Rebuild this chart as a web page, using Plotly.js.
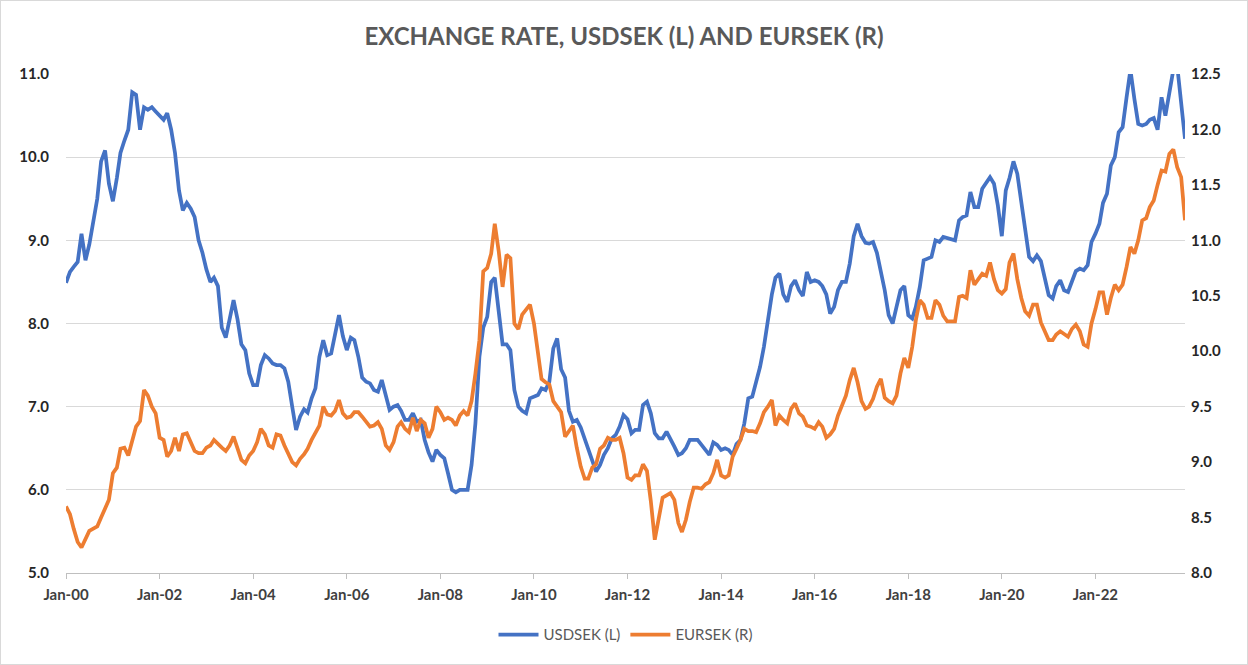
<!DOCTYPE html>
<html>
<head>
<meta charset="utf-8">
<script src="https://cdn.plot.ly/plotly-3.0.1.min.js"></script>
<style>
  html, body { margin: 0; padding: 0; background: #fff; }
  #chart { width: 1248px; height: 665px; box-sizing: border-box; border: 1px solid #d9d9d9; }
</style>
</head>
<body>
<div id="chart"></div>
<script>
// Monthly observations, Jan-2000 .. Dec-2023
const startYear = 2000;
const endYear = 2023;

const usdsek = [
  8.49, 8.62, 8.68, 8.74, 9.08, 8.76, 8.95, 9.25, 9.50, 9.95, 10.08, 9.68,
  9.47, 9.75, 10.05, 10.20, 10.33, 10.78, 10.75, 10.33, 10.60, 10.57, 10.60, 10.55,
  10.50, 10.45, 10.53, 10.33, 10.05, 9.60, 9.36, 9.45, 9.38, 9.28, 9.00, 8.85,
  8.65, 8.50, 8.55, 8.45, 7.95, 7.83, 8.05, 8.28, 8.05, 7.75, 7.68, 7.40,
  7.26, 7.26, 7.50, 7.62, 7.58, 7.52, 7.50, 7.50, 7.46, 7.30, 7.00, 6.72,
  6.88, 6.97, 6.93, 7.10, 7.22, 7.60, 7.80, 7.62, 7.64, 7.85, 8.10, 7.85,
  7.68, 7.83, 7.80, 7.60, 7.35, 7.30, 7.28, 7.20, 7.18, 7.32, 7.12, 6.96,
  7.00, 7.02, 6.95, 6.84, 6.84, 6.92, 6.82, 6.84, 6.60, 6.45, 6.34, 6.48,
  6.42, 6.38, 6.20, 6.00, 5.97, 6.00, 6.00, 6.00, 6.30, 6.80, 7.60, 7.95,
  8.08, 8.50, 8.55, 8.18, 7.75, 7.75, 7.68, 7.20, 7.00, 6.95, 6.92, 7.10,
  7.12, 7.14, 7.22, 7.20, 7.30, 7.70, 7.82, 7.45, 7.35, 6.95, 6.82, 6.84,
  6.75, 6.60, 6.50, 6.35, 6.22, 6.30, 6.42, 6.50, 6.62, 6.66, 6.76, 6.90,
  6.85, 6.68, 6.72, 6.72, 7.02, 7.06, 6.92, 6.68, 6.62, 6.62, 6.70, 6.62,
  6.52, 6.42, 6.44, 6.50, 6.60, 6.60, 6.60, 6.54, 6.48, 6.42, 6.57, 6.54,
  6.48, 6.50, 6.48, 6.42, 6.55, 6.60, 6.80, 7.10, 7.12, 7.30, 7.48, 7.72,
  8.05, 8.35, 8.55, 8.60, 8.35, 8.26, 8.45, 8.52, 8.40, 8.33, 8.62, 8.50,
  8.52, 8.50, 8.45, 8.35, 8.12, 8.20, 8.40, 8.50, 8.50, 8.72, 9.05, 9.20,
  9.05, 8.97, 8.96, 8.98, 8.85, 8.62, 8.40, 8.10, 8.00, 8.20, 8.40, 8.45,
  8.10, 8.06, 8.20, 8.44, 8.76, 8.78, 8.80, 9.00, 8.98, 9.04, 9.03, 9.01,
  9.00, 9.24, 9.28, 9.30, 9.58, 9.40, 9.40, 9.62, 9.70, 9.76, 9.68, 9.42,
  9.05, 9.60, 9.75, 9.95, 9.80, 9.45, 9.15, 8.80, 8.75, 8.82, 8.75, 8.55,
  8.34, 8.30, 8.45, 8.52, 8.40, 8.38, 8.50, 8.63, 8.66, 8.64, 8.70, 8.98,
  9.08, 9.20, 9.45, 9.56, 9.90, 10.00, 10.30, 10.36, 10.72, 11.05, 10.70, 10.40,
  10.38, 10.40, 10.45, 10.47, 10.33, 10.72, 10.50, 10.75, 11.05, 11.10, 10.70, 10.22
];

const eursek = [
  8.60, 8.53, 8.40, 8.28, 8.23, 8.30, 8.38, 8.40, 8.42, 8.50, 8.58, 8.66,
  8.90, 8.95, 9.12, 9.13, 9.06, 9.18, 9.32, 9.37, 9.65, 9.60, 9.50, 9.44,
  9.22, 9.20, 9.05, 9.10, 9.22, 9.10, 9.25, 9.26, 9.18, 9.10, 9.08, 9.08,
  9.13, 9.15, 9.20, 9.16, 9.13, 9.10, 9.15, 9.23, 9.12, 9.02, 8.99, 9.06,
  9.10, 9.18, 9.30, 9.25, 9.15, 9.13, 9.25, 9.24, 9.15, 9.07, 9.00, 8.97,
  9.03, 9.07, 9.12, 9.20, 9.27, 9.33, 9.50, 9.43, 9.42, 9.46, 9.56, 9.44,
  9.40, 9.41, 9.45, 9.45, 9.41, 9.36, 9.32, 9.33, 9.36, 9.30, 9.15, 9.11,
  9.18, 9.32, 9.36, 9.30, 9.27, 9.40, 9.28, 9.38, 9.35, 9.22, 9.30, 9.50,
  9.45, 9.38, 9.40, 9.38, 9.33, 9.42, 9.46, 9.42, 9.55, 9.80, 10.10, 10.72,
  10.75, 10.88, 11.15, 10.90, 10.58, 10.87, 10.84, 10.25, 10.20, 10.33, 10.37, 10.42,
  10.25, 10.00, 9.75, 9.72, 9.70, 9.55, 9.50, 9.45, 9.23, 9.28, 9.33, 9.13,
  8.96, 8.85, 8.85, 8.95, 8.98, 9.12, 9.15, 9.22, 9.20, 9.20, 9.22, 9.08,
  8.86, 8.84, 8.88, 8.88, 8.98, 8.92, 8.65, 8.30, 8.50, 8.68, 8.70, 8.72,
  8.66, 8.45, 8.37, 8.48, 8.64, 8.77, 8.77, 8.76, 8.80, 8.82, 8.90, 9.02,
  8.88, 8.86, 8.88, 9.05, 9.12, 9.20, 9.30, 9.28, 9.28, 9.27, 9.35, 9.45,
  9.50, 9.56, 9.33, 9.42, 9.38, 9.35, 9.48, 9.53, 9.44, 9.41, 9.33, 9.32,
  9.30, 9.36, 9.32, 9.22, 9.25, 9.30, 9.42, 9.50, 9.60, 9.74, 9.85, 9.72,
  9.55, 9.48, 9.50, 9.57, 9.68, 9.75, 9.58, 9.55, 9.53, 9.60, 9.80, 9.94,
  9.85, 10.04, 10.28, 10.46, 10.42, 10.30, 10.30, 10.46, 10.42, 10.32, 10.27, 10.27,
  10.27, 10.49, 10.50, 10.48, 10.73, 10.60, 10.65, 10.70, 10.68, 10.80, 10.65, 10.55,
  10.52, 10.56, 10.80, 10.88, 10.65, 10.48, 10.36, 10.32, 10.42, 10.42, 10.26, 10.18,
  10.10, 10.10, 10.15, 10.18, 10.16, 10.13, 10.20, 10.24, 10.18, 10.06, 10.04, 10.25,
  10.38, 10.53, 10.53, 10.33, 10.48, 10.60, 10.55, 10.60, 10.76, 10.94, 10.88, 11.00,
  11.18, 11.20, 11.30, 11.36, 11.50, 11.63, 11.62, 11.78, 11.82, 11.66, 11.57, 11.18
];

const tickYears = [2000, 2002, 2004, 2006, 2008, 2010, 2012, 2014, 2016, 2018, 2020, 2022];
const tickLabels = ['Jan-00','Jan-02','Jan-04','Jan-06','Jan-08','Jan-10','Jan-12','Jan-14','Jan-16','Jan-18','Jan-20','Jan-22'];

const months = [];
for (let y = startYear; y <= endYear; y++) {
  for (let m = 1; m <= 12; m++) months.push(y + '-' + String(m).padStart(2, '0') + '-01');
}
const tickVals = tickYears.map(y => y + '-01-01');

const FONT = 'Lato, "Open Sans", sans-serif';

const traces = [
  { x: months, y: usdsek, name: 'USDSEK (L)', type: 'scatter', mode: 'lines',
    line: { color: '#4472C4', width: 3.75 }, yaxis: 'y' },
  { x: months, y: eursek, name: 'EURSEK (R)', type: 'scatter', mode: 'lines',
    line: { color: '#ED7D31', width: 3.75 }, yaxis: 'y2' }
];

const layout = {
  width: 1246, height: 663,
  margin: { l: 65, r: 62, t: 73, b: 91 },
  paper_bgcolor: '#ffffff', plot_bgcolor: '#ffffff',
  font: { family: FONT, color: '#404040' },
  title: { text: '<b>EXCHANGE RATE, USDSEK (L) AND EURSEK (R)</b>',
    font: { family: FONT, size: 24, color: '#595959' },
    x: 0.5, xanchor: 'center', y: 0.947, yanchor: 'middle' },
  xaxis: {
    type: 'date', range: [months[0], months[months.length - 1]],
    tickvals: tickVals, ticktext: tickLabels.map(t => '<b>' + t + '</b>'),
    tickfont: { family: FONT, size: 15, color: '#404040' },
    showgrid: false, zeroline: false,
    showline: true, linecolor: '#bfbfbf', linewidth: 1,
    ticks: 'outside', ticklen: 5, tickcolor: '#bfbfbf', ticklabelstandoff: 3
  },
  yaxis: {
    range: [5, 11], dtick: 1, tick0: 5, tickformat: '.1f',
    tickfont: { family: FONT, size: 15, color: '#262626' },
    tickprefix: '<b>', ticksuffix: '</b>',
    showgrid: true, gridcolor: '#d9d9d9', gridwidth: 1.3,
    zeroline: false, showline: false, ticks: '', ticklabelstandoff: 16
  },
  yaxis2: {
    range: [8, 12.5], dtick: 0.5, tick0: 8, tickformat: '.1f',
    overlaying: 'y', side: 'right',
    tickfont: { family: FONT, size: 15, color: '#262626' },
    tickprefix: '<b>', ticksuffix: '</b>',
    showgrid: false, zeroline: false, showline: false, ticks: '', ticklabelstandoff: 5
  },
  legend: {
    orientation: 'h', x: 0.5, xanchor: 'center', y: -0.124, yanchor: 'middle',
    font: { family: FONT, size: 15, color: '#595959' },
    itemwidth: 40, traceorder: 'normal'
  },
  showlegend: true
};

Plotly.newPlot('chart', traces, layout, { displayModeBar: false, staticPlot: true });
</script>
</body>
</html>
